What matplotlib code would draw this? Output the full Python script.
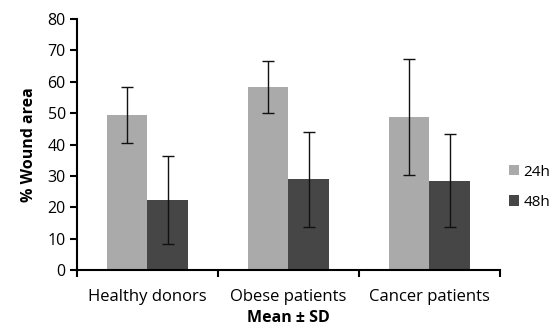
import matplotlib
matplotlib.use("Agg")
import matplotlib.pyplot as plt
import numpy as np

plt.rcParams['font.family'] = ['Open Sans', 'DejaVu Sans']

categories = ["Healthy donors", "Obese patients", "Cancer patients"]
series_names = ["24h", "48h"]
mean_24h = [49.4, 58.3, 48.9]
sd_24h = [9.0, 8.4, 18.5]
mean_48h = [22.2, 28.9, 28.5]
sd_48h = [14.0, 15.1, 14.7]
colors = ["#aaaaaa", "#464646"]

fig = plt.figure(figsize=(5.55, 3.29), dpi=100)
ax = fig.add_axes([0.1387, 0.1793, 0.7622, 0.7629])

x = np.arange(len(categories))
w = 0.284
ax.bar(x - w/2, mean_24h, w, color=colors[0], label=series_names[0],
       yerr=sd_24h, capsize=4, error_kw=dict(elinewidth=1, capthick=1, ecolor='#111111'))
ax.bar(x + w/2, mean_48h, w, color=colors[1], label=series_names[1],
       yerr=sd_48h, capsize=4, error_kw=dict(elinewidth=1, capthick=1, ecolor='#111111'))

ax.set_xlim(-0.5, len(categories) - 0.5)
ax.set_ylim(0, 80)
ax.set_yticks(np.arange(0, 81, 10))
ax.set_xticks(x)
ax.set_xticklabels(categories, fontsize=12)
ax.set_xticks(np.arange(-0.5, len(categories), 1.0), minor=True)
ax.tick_params(axis='x', which='major', length=0, pad=14)
ax.tick_params(axis='x', which='minor', length=5, width=1.5, direction='out')
ax.tick_params(axis='y', length=5, width=1.5, direction='out', labelsize=11.5, pad=3)
for s in ['top', 'right']:
    ax.spines[s].set_visible(False)
for s in ['left', 'bottom']:
    ax.spines[s].set_linewidth(1.5)
    ax.spines[s].set_color('#000000')

ax.set_ylabel("% Wound area", fontsize=11.5, fontweight='bold', labelpad=8)
ax.set_xlabel("Mean ± SD", fontsize=11.5, fontweight='bold', labelpad=3)

ax.legend(loc='center left', bbox_to_anchor=(1.012, 0.33), frameon=False,
          fontsize=11, handlelength=0.65, handleheight=0.65, handletextpad=0.3,
          labelspacing=1.0, borderaxespad=0.05, borderpad=0.2)

fig.savefig("out.png", dpi=100)
